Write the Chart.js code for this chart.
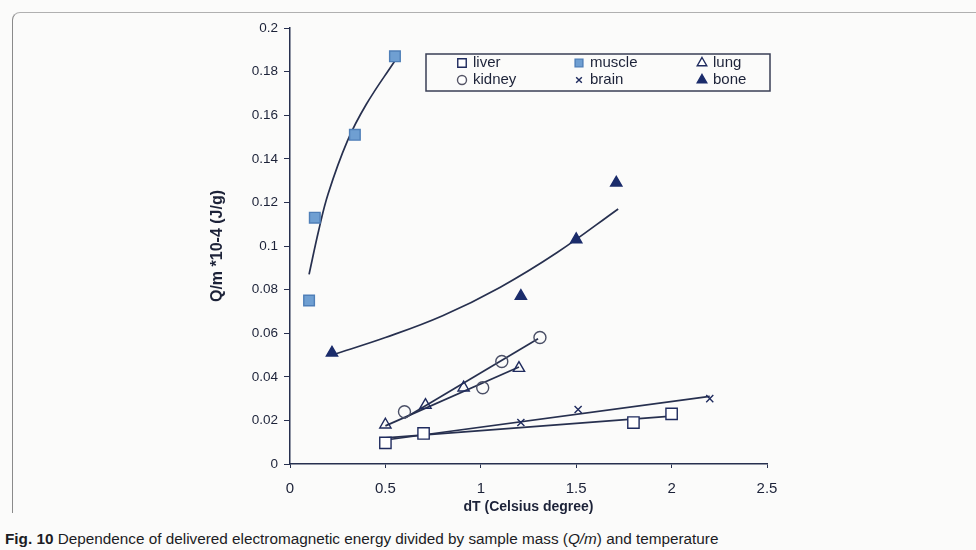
<!DOCTYPE html>
<html>
<head>
<meta charset="utf-8">
<script src="https://cdn.jsdelivr.net/npm/chart.js@4/dist/chart.umd.min.js"></script>
<style>
  html, body { margin: 0; padding: 0; background: #fbfbfa; }
  #wrap { position: relative; width: 976px; height: 550px; overflow: hidden; }
  #frame { position: absolute; left: 12px; top: 12px; width: 1000px; height: 500px;
           border-left: 1.5px solid #8a8a8a; border-top: 1.5px solid #b0b0b0; border-radius: 8px 0 0 0; }
  #box { position: absolute; left: 0; top: 0; width: 976px; height: 520px; }
  #caption { position: absolute; left: 5px; top: 530px; font: 15.3px "Liberation Sans", Arial, sans-serif;
             color: #1c1c24; }
</style>
</head>
<body>
<div id="wrap">
  <div id="frame"></div>
  <div id="box"><canvas id="chart"></canvas></div>
  <div id="caption"><b>Fig. 10</b> Dependence of delivered electromagnetic energy divided by sample mass (<i>Q/m</i>) and temperature</div>
</div>
<script>
// measured points, [dT, Q/m]
const liver  = [[0.5, 0.0097], [0.7, 0.014], [1.8, 0.019], [2.0, 0.023]];
const muscle = [[0.1, 0.075], [0.13, 0.113], [0.34, 0.151], [0.55, 0.187]];
const lung   = [[0.5, 0.018], [0.71, 0.027], [0.91, 0.035], [1.2, 0.044]];
const kidney = [[0.6, 0.024], [1.01, 0.035], [1.11, 0.047], [1.31, 0.058]];
const brain  = [[0.7, 0.014], [1.21, 0.019], [1.51, 0.025], [2.2, 0.030]];
const bone   = [[0.22, 0.051], [1.21, 0.077], [1.5, 0.103], [1.71, 0.129]];

// trend lines
const liverFit  = [[0.5, 0.012], [2.0, 0.022]];
const brainFit  = [[0.5, 0.011], [2.2, 0.031]];
const lungFit   = [[0.5, 0.0175], [1.2, 0.0445]];
const kidneyFit = [[0.6, 0.021], [1.3, 0.0575]];
const muscleFit = [[0.1, 0.087], [0.15, 0.107], [0.2, 0.124], [0.3, 0.148], [0.4, 0.165], [0.55, 0.185]];
const boneFit   = [[0.22, 0.050], [0.5, 0.058], [0.8, 0.068], [1.1, 0.081], [1.4, 0.097], [1.72, 0.117]];

const xTicks = [0, 0.5, 1, 1.5, 2, 2.5];
const yTicks = [0, 0.02, 0.04, 0.06, 0.08, 0.1, 0.12, 0.14, 0.16, 0.18, 0.2];

const navy = '#1f2b5e';
const lineCol = '#27304f';
const ink = '#1c2238';

const pts = arr => arr.map(p => ({ x: p[0], y: p[1] }));

function fit(data, tension) {
    return {
        type: 'line', data: pts(data), borderColor: lineCol, borderWidth: 1.7,
        pointRadius: 0, fill: false, tension: tension || 0, order: 2,
    };
}

function marks(label, data, style, fillCol, strokeCol, r) {
    return {
        type: 'scatter', label: label, data: pts(data), pointStyle: style,
        pointRadius: r, pointBackgroundColor: fillCol, pointBorderColor: strokeCol,
        pointBorderWidth: 1.4, order: 1,
    };
}

const legendItems = [
    { label: 'liver',  style: 'rect',     fill: '#ffffff', stroke: navy,      r: 6,   col: 0, row: 0 },
    { label: 'muscle', style: 'rect',     fill: '#6f9fd2', stroke: '#4f7fb8', r: 5.5, col: 1, row: 0 },
    { label: 'lung',   style: 'triangle', fill: '#ffffff', stroke: navy,      r: 5.5, col: 2, row: 0 },
    { label: 'kidney', style: 'circle',   fill: '#ffffff', stroke: '#556',    r: 4.5, col: 0, row: 1 },
    { label: 'brain',  style: 'crossRot', fill: '#ffffff', stroke: navy,      r: 4,   col: 1, row: 1 },
    { label: 'bone',   style: 'triangle', fill: '#1b2c6b', stroke: '#1b2c6b', r: 5.5, col: 2, row: 1 },
];

const boxLegend = {
    id: 'boxLegend',
    afterDraw(chart) {
        const ctx = chart.ctx;
        ctx.save();
        ctx.strokeStyle = '#3a3f55';
        ctx.lineWidth = 1.5;
        ctx.strokeRect(426, 54, 344, 37);
        ctx.font = '15px "Liberation Sans", Arial, sans-serif';
        ctx.textBaseline = 'middle';
        const colX = [462, 579, 702];
        legendItems.forEach(it => {
            const x = colX[it.col];
            const y = 63 + it.row * 17;
            ctx.fillStyle = it.fill;
            ctx.strokeStyle = it.stroke;
            ctx.lineWidth = 1.4;
            Chart.helpers.drawPoint(ctx, { pointStyle: it.style, radius: it.r, borderWidth: 1.4 }, x, y);
            ctx.fillStyle = ink;
            ctx.fillText(it.label, x + 11, y);
        });
        ctx.restore();
    }
};

new Chart(document.getElementById('chart'), {
    type: 'scatter',
    data: {
        datasets: [
            fit(liverFit), fit(brainFit), fit(lungFit), fit(kidneyFit),
            fit(muscleFit, 0.4), fit(boneFit, 0.4),
            marks('liver', liver, 'rect', '#ffffff', navy, 8),
            marks('muscle', muscle, 'rect', '#6f9fd2', '#4f7fb8', 7.5),
            marks('lung', lung, 'triangle', 'rgba(255,255,255,0)', navy, 6.5),
            marks('kidney', kidney, 'circle', 'rgba(255,255,255,0)', '#4a4f66', 6),
            marks('brain', brain, 'crossRot', navy, navy, 5),
            marks('bone', bone, 'triangle', '#1b2c6b', '#1b2c6b', 6.5),
        ],
    },
    options: {
        responsive: true,
        maintainAspectRatio: false,
        animation: false,
        layout: { padding: { left: 200, right: 209, top: 28, bottom: 4 } },
        plugins: {
            legend: { display: false },
            tooltip: { enabled: false },
        },
        scales: {
            x: {
                type: 'linear', min: 0, max: 2.5,
                afterBuildTicks: s => { s.ticks = xTicks.map(v => ({ value: v })); },
                afterFit: s => { s.height = 52; },
                grid: { drawOnChartArea: false, color: lineCol, tickLength: 4 },
                border: { color: lineCol, width: 1.5 },
                ticks: { color: ink, font: { size: 15, family: '"Liberation Sans", Arial' }, padding: 12,
                         callback: v => String(v) },
                title: { display: true, text: 'dT (Celsius degree)', color: ink,
                         font: { size: 14, weight: 'bold', family: '"Liberation Sans", Arial' },
                         padding: { top: 0, bottom: 0 } },
            },
            y: {
                type: 'linear', min: 0, max: 0.2,
                afterBuildTicks: s => { s.ticks = yTicks.map(v => ({ value: v })); },
                afterFit: s => { s.width = 90; },
                grid: { drawOnChartArea: false, color: lineCol, tickLength: 6 },
                border: { color: lineCol, width: 1.5 },
                ticks: { color: ink, font: { size: 13.5, family: '"Liberation Sans", Arial' }, padding: 6,
                         callback: v => String(Math.round(v * 100) / 100) },
                title: { display: true, text: 'Q/m *10-4 (J/g)', color: ink,
                         font: { size: 16, weight: 'bold', family: '"Liberation Sans", Arial' },
                         padding: { top: 8, bottom: 0 } },
            },
        },
    },
    plugins: [boxLegend],
});
</script>
</body>
</html>
